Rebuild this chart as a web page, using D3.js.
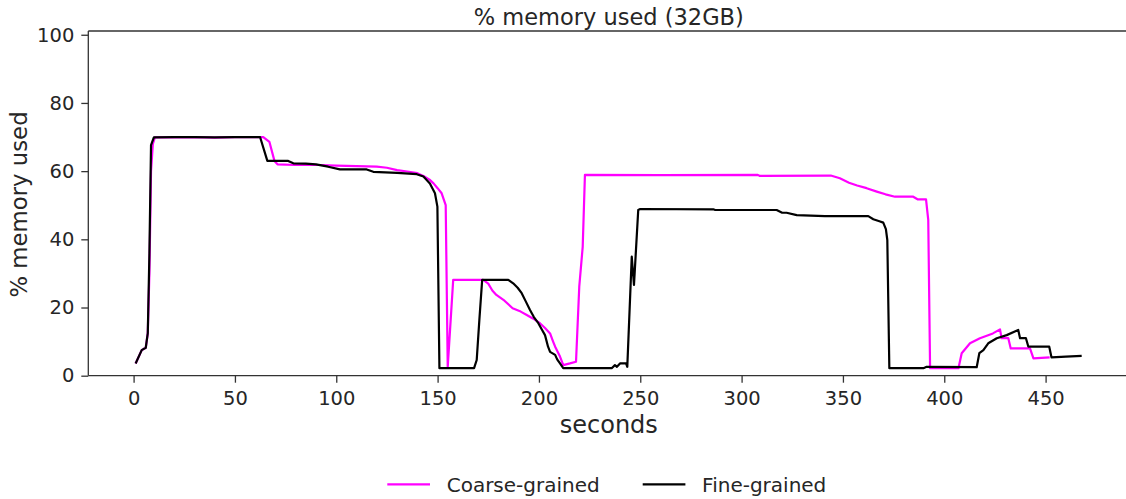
<!DOCTYPE html>
<html><head><meta charset="utf-8">
<script src="https://cdn.jsdelivr.net/npm/d3@7"></script>
<style>body{margin:0;background:#fff}svg{display:block;font-family:"DejaVu Sans",sans-serif}</style>
</head><body><svg id="c" width="1126" height="499"></svg>
<script>
const title = "% memory used (32GB)";
const xLabel = "seconds";
const yLabel = "% memory used";
const seriesNames = ["Coarse-grained", "Fine-grained"];
const xTicks = [0,50,100,150,200,250,300,350,400,450];
const yTicks = [0,20,40,60,80,100];

const coarseTime = [1,4,6,7,7.8,8.6,9.5,10.5,30,40,50,60,64,67,69.5,71,80,92,100,120,125,130,135,140,143,146,148,150,152,154,155,157.7,172.5,175,177,179,183,187,191,194,197,200.5,203,205.5,207,208,210.4,212,215.3,218.3,219.9,221.6,222.7,260,308,309,344,348.5,353,357,361.7,366.7,371,375.7,384.7,387,391,392.1,393,407,408.6,412.7,417.6,424,427.5,428.3,431.6,432.8,442.3,444,452];
const coarseValue = [3.6,7.5,8.2,12.5,30,60,68,69.9,70,69.8,70,70,70,68.6,63,62,61.8,61.8,61.6,61.3,61,60.3,59.9,59.4,58.6,57.5,56.4,55,53.5,50,2.6,28.1,28.1,27,25,23.7,22,19.8,18.8,17.8,16.8,15.4,14,12.4,10,8.5,5.6,3.1,3.6,4.1,26.1,37.8,58.9,58.8,58.9,58.6,58.7,57.9,56.6,55.8,55,54,53.2,52.5,52.5,51.7,51.7,45.7,2.2,2.2,6.6,9.5,11,12.4,13.6,11,11,8,8,5.1,5.4];

const fineTime = [1,4,6,7,7.8,8.6,10,20,30,40,50,62.4,66,76.3,78.8,85,90,96,101.8,115,118.3,130,139.7,143,146.2,148.7,149.9,150.9,168,169.3,170.6,172,184.9,187.3,189.5,191.5,193.5,195.6,197.5,199.7,201.5,203,204.5,205.5,208,209,210.4,212,235.9,237.5,238.5,240,243,243.6,245.8,246.9,249,250,286,287,317.3,320,322.2,327.2,341.1,362.5,365,368,369.9,371.2,371.9,372.9,389.7,391.3,416,417.3,419.3,421.7,425.9,430.8,436.5,437.4,440.3,441.5,451.8,452.9,460,467.8];
const fineValue = [3.6,7.5,8.2,12.5,35.9,67.6,69.9,70,70,69.9,70,70,63,63,62.3,62.2,62,61.3,60.5,60.5,59.8,59.5,59.1,58.4,56.4,53.5,49.6,2.2,2.2,4.6,16.3,28.1,28.1,27.1,25.8,24.2,21.8,19.3,17.2,15.4,13.5,11.9,8.5,7,6.1,4.8,3.6,2.2,2.2,3.1,2.6,3.6,3.6,2.6,34.9,26.6,48.6,48.9,48.8,48.6,48.6,47.8,47.8,47.1,46.8,46.8,45.9,45.3,44.9,43,39.8,2.2,2.2,2.6,2.5,6.6,7.5,9.5,11,11.9,13.4,11,11,8.5,8.5,5.4,5.6,5.8];

const colors = ["#ff00ff", "#000000"];
const series = [
  {name: seriesNames[0], pts: coarseTime.map((t,i)=>[t, coarseValue[i]]), color: colors[0]},
  {name: seriesNames[1], pts: fineTime.map((t,i)=>[t, fineValue[i]]), color: colors[1]}
];

const svg = d3.select("#c");
const x = d3.scaleLinear().domain([-22.35, 491.35]).range([88.3, 1129.4]);
const y = d3.scaleLinear().domain([0, 101.1]).range([375.7, 31]);
const ink = "#262626";

const line = d3.line().x(d=>x(d[0])).y(d=>y(d[1]));
const plot = svg.append("g");
series.forEach(s=>{
  plot.append("path").datum(s.pts).attr("d", line).attr("fill","none")
    .attr("stroke", s.color).attr("stroke-width", 2.2).attr("stroke-linejoin","round");
});

// spines
svg.append("line").attr("x1",88.3).attr("x2",88.3).attr("y1",31).attr("y2",375.7).attr("stroke","#333").attr("stroke-width",1.3);
svg.append("line").attr("x1",88.3).attr("x2",1129.4).attr("y1",31).attr("y2",31).attr("stroke","#333").attr("stroke-width",1.3);
svg.append("line").attr("x1",88.3).attr("x2",1129.4).attr("y1",375.7).attr("y2",375.7).attr("stroke","#333").attr("stroke-width",1.3);

const xa = svg.append("g").attr("transform","translate(0,375.7)")
  .call(d3.axisBottom(x).tickValues(xTicks).tickSize(7).tickPadding(8).tickSizeOuter(0));
const ya = svg.append("g").attr("transform","translate(88.3,0)")
  .call(d3.axisLeft(y).tickValues(yTicks).tickSize(7).tickPadding(7).tickSizeOuter(0));
[xa, ya].forEach(a=>{
  a.select(".domain").remove();
  a.selectAll(".tick line").attr("stroke","#333").attr("stroke-width",1.3);
  a.selectAll(".tick text").attr("fill", ink).style("font-size","19.5px").style("font-family","DejaVu Sans");
});

svg.append("text").attr("x",608.8).attr("y",25).attr("text-anchor","middle")
  .attr("fill",ink).style("font-size","22.5px").text(title);
svg.append("text").attr("x",608.8).attr("y",433.3).attr("text-anchor","middle")
  .attr("fill",ink).style("font-size","24px").text(xLabel);
svg.append("text").attr("transform","translate(27,204.5) rotate(-90)").attr("text-anchor","middle")
  .attr("fill",ink).style("font-size","22.8px").text(yLabel);

// legend
const legX = [387.3, 642.7];
series.forEach((s,i)=>{
  svg.append("line").attr("x1",legX[i]).attr("x2",legX[i]+42.7).attr("y1",484.3).attr("y2",484.3)
    .attr("stroke",s.color).attr("stroke-width",2.2);
  svg.append("text").attr("x",legX[i]+59.4).attr("y",492.3).attr("fill",ink)
    .style("font-size","20px").text(s.name);
});
</script></body></html>
